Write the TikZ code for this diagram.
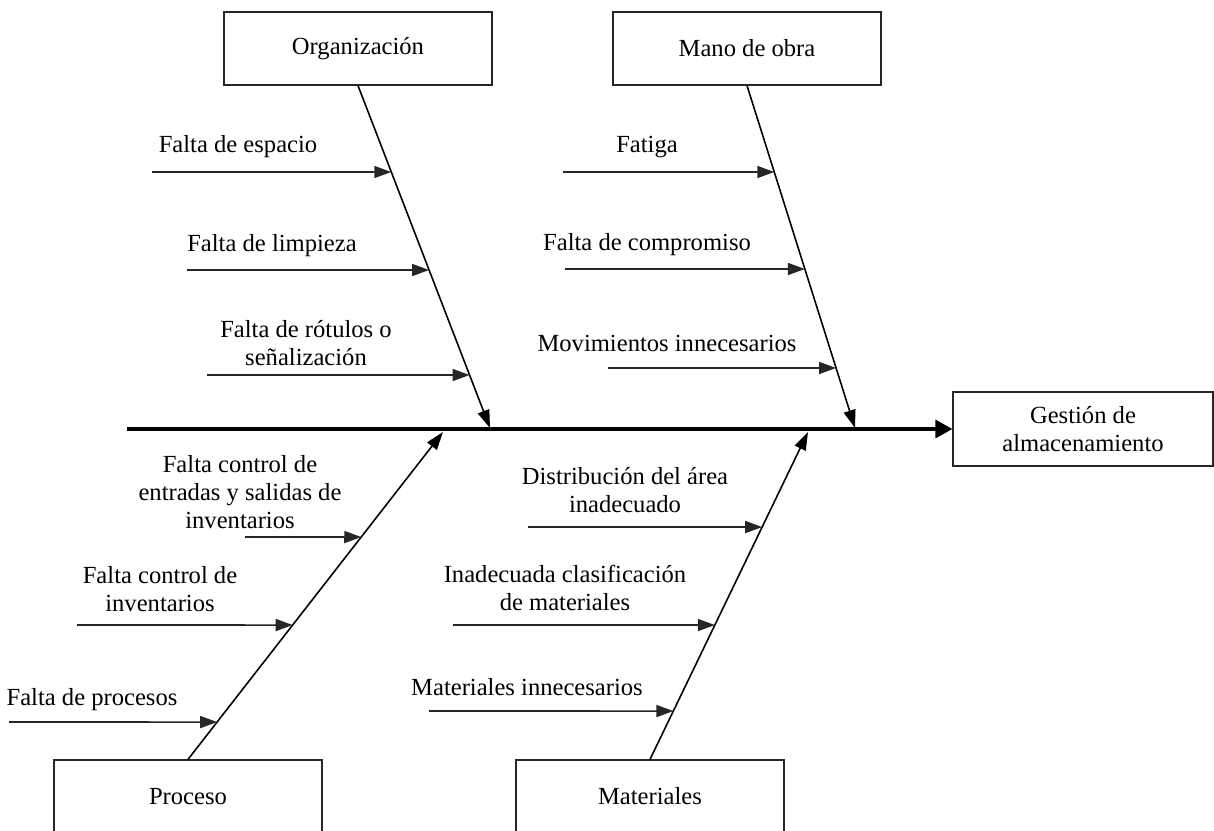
\documentclass[tikz,border=0pt]{standalone}
\usepackage{fontspec}
\setmainfont{Liberation Serif}
\usepackage{tikz}
\usetikzlibrary{arrows.meta, positioning, calc}

\begin{document}
\begin{tikzpicture}[x=0.02cm, y=-0.02cm,
            every node/.style={font=\fontsize{14}{16}\selectfont},
            effect/.style={rectangle, draw=black!85, line width=0.7pt, minimum width=5.36cm, minimum height=1.46cm, align=center},
            result/.style={effect, minimum width=5.2cm, minimum height=1.48cm},
            cause/.style={align=center, inner sep=0pt},
            bone/.style={line width=0.9pt, -{Triangle[length=0.36cm, width=0.24cm]}},
            causearrow/.style={line width=0.9pt, draw=black!85, -{Triangle[length=0.34cm, width=0.24cm]}},
            spine/.style={line width=1.9pt, -{Triangle[length=0.34cm, width=0.36cm]}}
        ]
            \useasboundingbox (0,0) rectangle (1214,831);

% Category boxes
            \node[effect] (org) at (358,48.5) {Organización};
            \node[effect] (mano) at (747,48.5) {Mano de obra};
            \node[effect] (proc) at (188,796.5) {Proceso};
            \node[effect] (mat) at (650,796.5) {Materiales};

% Effect
            \node[result] (gest) at (1083,429) {Gestión de\\almacenamiento};

% Spine
            \coordinate (tail) at (127,429);
            \draw[spine] (tail) -- (gest.west);

% Bones
            \coordinate (orgtip) at (490,428);
            \coordinate (manotip) at (855,428);
            \coordinate (proctip) at (443,432);
            \coordinate (mattip) at (808,432);
            \draw[bone] (org.south) -- (orgtip);
            \draw[bone] (mano.south) -- (manotip);
            \draw[bone] (proc.north) -- (proctip);
            \draw[bone] (mat.north) -- (mattip);

% Organizacion causes
            \node[cause] (esp) at (238,147) {Falta de espacio};
            \coordinate (esps) at (152,172);
            \coordinate (espe) at (intersection of org.south--orgtip and esps--1200,172);
            \draw[causearrow] (esps) -- (espe);

            \node[cause] (limp) at (272,246) {Falta de limpieza};
            \coordinate (limps) at (187,270);
            \coordinate (limpe) at (intersection of org.south--orgtip and limps--1200,270);
            \draw[causearrow] (limps) -- (limpe);

            \node[cause] (rot) at (306,343) {Falta de rótulos o\\señalización};
            \coordinate (rots) at (207,375);
            \coordinate (rote) at (intersection of org.south--orgtip and rots--1200,375);
            \draw[causearrow] (rots) -- (rote);

% Mano de obra causes
            \node[cause] (fat) at (647,147) {Fatiga};
            \coordinate (fats) at (563,172);
            \coordinate (fate) at (intersection of mano.south--manotip and fats--1200,172);
            \draw[causearrow] (fats) -- (fate);

            \node[cause] (comp) at (647,245) {Falta de compromiso};
            \coordinate (comps) at (565,269);
            \coordinate (compe) at (intersection of mano.south--manotip and comps--1200,269);
            \draw[causearrow] (comps) -- (compe);

            \node[cause] (mov) at (667,343) {Movimientos innecesarios};
            \coordinate (movs) at (608,368);
            \coordinate (move) at (intersection of mano.south--manotip and movs--1200,368);
            \draw[causearrow] (movs) -- (move);

% Proceso causes
            \node[cause] (ent) at (240,492) {Falta control de\\entradas y salidas de\\inventarios};
            \coordinate (ents) at (245,537);
            \coordinate (ente) at (intersection of proc.north--proctip and ents--1200,537);
            \draw[causearrow] (ents) -- (ente);

            \node[cause] (inv) at (160,589) {Falta control de\\inventarios};
            \coordinate (invs) at (77,625);
            \coordinate (inve) at (intersection of proc.north--proctip and invs--1200,625);
            \draw[causearrow] (invs) -- (inve);

            \node[cause] (fproc) at (92,700) {Falta de procesos};
            \coordinate (fprocs) at (9,722);
            \coordinate (fproce) at (intersection of proc.north--proctip and fprocs--1200,722);
            \draw[causearrow] (fprocs) -- (fproce);

% Materiales causes
            \node[cause] (dist) at (625,490) {Distribución del área\\inadecuado};
            \coordinate (dists) at (528,527);
            \coordinate (diste) at (intersection of mat.north--mattip and dists--1200,527);
            \draw[causearrow] (dists) -- (diste);

            \node[cause] (clas) at (565,588) {Inadecuada clasificación\\de materiales};
            \coordinate (class) at (453,625);
            \coordinate (clase) at (intersection of mat.north--mattip and class--1200,625);
            \draw[causearrow] (class) -- (clase);

            \node[cause] (inn) at (527,687) {Materiales innecesarios};
            \coordinate (inns) at (429,711);
            \coordinate (inne) at (intersection of mat.north--mattip and inns--1200,711);
            \draw[causearrow] (inns) -- (inne);

        \end{tikzpicture}
\end{document}
